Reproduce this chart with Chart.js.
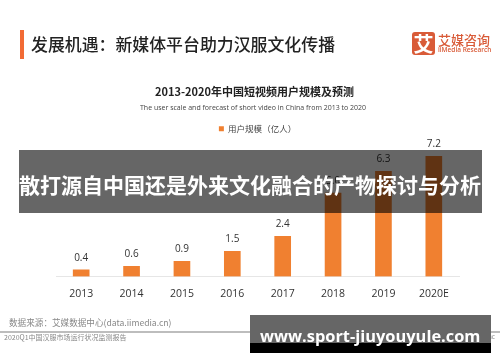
<!DOCTYPE html>
<html>
<head>
<meta charset="utf-8">
<script src="https://cdn.jsdelivr.net/npm/chart.js@4"></script>
<style>
  body { margin: 0; background: #fff; }
  #page { position: relative; width: 500px; height: 362px; overflow: hidden; font-family: "Noto Sans CJK SC", sans-serif; }
  #page canvas { position: absolute; left: 0; top: 0; }
  .txt { position: absolute; white-space: nowrap; line-height: 1; }
  .box { position: absolute; }
</style>
</head>
<body>
<div id="page">
  <canvas id="chart" width="500" height="362"></canvas>

  <div class="box" style="left:20px;top:30px;width:4px;height:29px;background:#f26b35"></div>
  <div class="txt" id="heading" style="left:31px;top:36px;font-size:16.9px;font-weight:500;color:#222">发展机遇：新媒体平台助力汉服文化传播</div>

  <div class="box" style="left:412px;top:32px;width:23px;height:23px;border-radius:3px;background:#d95b38"></div>
  <div class="txt" style="left:412px;top:32px;width:23px;font-size:20px;line-height:23px;font-weight:700;color:#fff;text-align:center">艾</div>
  <div class="txt" style="left:438px;top:33px;font-size:13px;font-weight:500;color:#d95b38">艾媒咨询</div>
  <div class="txt" style="left:438px;top:47px;font-size:6.5px;font-family:'Open Sans';font-weight:600;color:#d95b38">iiMedia Research</div>

  <div class="txt" id="title" style="left:155px;top:86px;font-size:11px;font-weight:700;color:#222">2013-2020年中国短视频用户规模及预测</div>
  <div class="txt" id="subtitle" style="left:140px;top:104px;font-size:7px;font-family:'Open Sans';color:#444">The user scale and forecast of short video in China from 2013 to 2020</div>

  <div class="txt" style="left:9px;top:318px;font-size:8.6px;color:#888">数据来源：艾媒数据中心(data.iimedia.cn)</div>
  <div class="box" style="left:0;top:331px;width:500px;height:2px;background:#bdbdbd"></div>
  <div class="txt" style="left:4px;top:334px;font-size:7px;color:#888">2020Q1中国汉服市场运行状况监测报告</div>
  <div class="txt" style="right:5px;top:334px;font-size:6.7px;font-family:'Open Sans';color:#888">Copyright © iiMedia Research Inc</div>

  <!-- watermark bands sit over the chart -->
  <div class="box" style="left:19px;top:150px;width:463px;height:63px;background:rgba(0,0,0,0.6)"></div>
  <div class="txt" id="band" style="left:19px;top:174px;font-size:21px;font-weight:700;color:#fff">散打源自中国还是外来文化融合的产物探讨与分析</div>

  <div class="box" style="left:250px;top:315px;width:241px;height:28px;background:#666"></div>
  <div class="box" style="left:250px;top:343px;width:241px;height:10px;background:#000"></div>
  <div class="txt" id="url" style="left:260px;top:328px;font-size:16.4px;font-family:'Open Sans';font-weight:700;color:#fff">www.sport-jiuyouyule.com</div>
</div>

<script>
const categories = ['2013', '2014', '2015', '2016', '2017', '2018', '2019', '2020E'];
const userScale = [0.4, 0.6, 0.9, 1.5, 2.4, 5.0, 6.3, 7.2];
const seriesName = '用户规模（亿人）';

// value labels above the bars
const barLabels = {
    id: 'barLabels',
    afterDatasetsDraw(chart) {
        const ctx = chart.ctx;
        const meta = chart.getDatasetMeta(0);
        ctx.save();
        ctx.font = '10px "Open Sans"';
        ctx.fillStyle = '#333';
        ctx.textAlign = 'center';
        ctx.textBaseline = 'middle';
        meta.data.forEach((bar, i) => {
            ctx.fillText(userScale[i].toFixed(1), bar.x, bar.y - 12);
        });
        ctx.restore();
    }
};

new Chart(document.getElementById('chart'), {
    type: 'bar',
    data: {
        labels: categories,
        datasets: [{
            label: seriesName,
            data: userScale,
            backgroundColor: '#f08030',
            barThickness: 16
        }]
    },
    options: {
        responsive: false,
        animation: false,
        layout: { padding: { left: 56, right: 41, top: 114, bottom: 51 } },
        plugins: {
            tooltip: { enabled: false },
            legend: {
                position: 'top',
                labels: {
                    boxWidth: 5,
                    boxHeight: 5,
                    padding: 10.5,
                    color: '#444',
                    font: { size: 8.5, family: '"Noto Sans CJK SC"' }
                }
            }
        },
        scales: {
            x: {
                grid: { display: false, drawTicks: false },
                border: { color: '#e6e6e6', width: 1 },
                ticks: { color: '#333', padding: 11, maxRotation: 0, font: { size: 10.5, family: '"Open Sans"' } }
            },
            y: { display: false, min: 0, max: 8 }
        }
    },
    plugins: [barLabels]
});
</script>
</body>
</html>
